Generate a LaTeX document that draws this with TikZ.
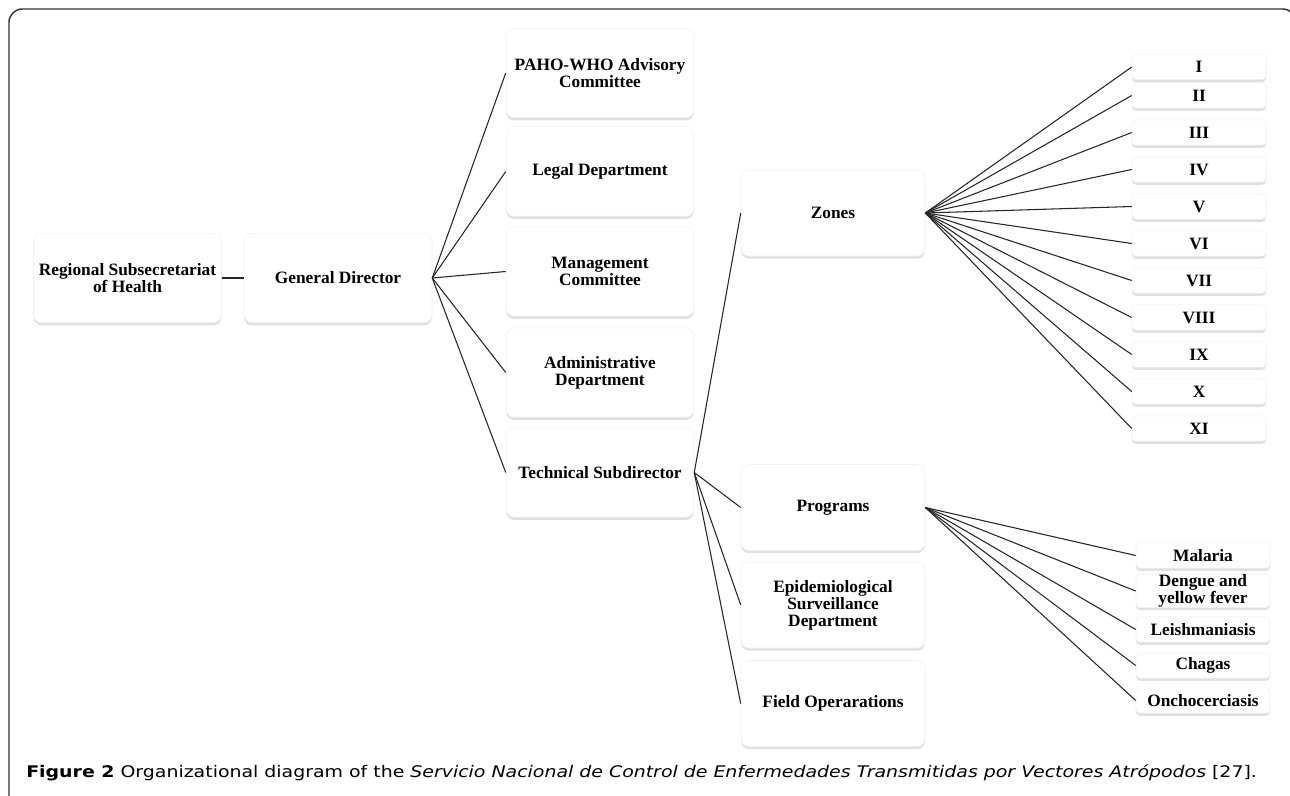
\documentclass[tikz,border=0pt]{standalone}
\usepackage{fontspec}
\usepackage{graphicx}
\setmainfont{Liberation Serif}
\newfontfamily\capfont{DejaVu Sans}
\usetikzlibrary{shadows}

\begin{document}
\begin{tikzpicture}[x=0.75pt,y=-0.75pt,
    unit/.style={fill=white, draw=gray!12, rounded corners=6pt, align=center, inner sep=2pt,
      font=\bfseries\fontsize{13}{12.8}\selectfont,
      drop shadow={shadow xshift=0pt, shadow yshift=-2pt, opacity=0.3, fill=gray!80}},
    bigunit/.style={unit, minimum width=141pt, minimum height=67pt},
    midunit/.style={unit, minimum width=138pt, minimum height=64.5pt},
    smallunit/.style={unit, rounded corners=3pt, minimum width=100.5pt, minimum height=19pt, inner sep=0pt},
    link/.style={line width=0.8pt, black!85}]
  \useasboundingbox (0,0) rectangle (1290,796);
  % outer frame
  \draw[line width=1.1pt, black!80, rounded corners=10pt] (9,810) -- (9,9) -- (1296,9) -- (1296,810);

  % top levels
  \node[bigunit] (regional) at (127.5,278) {Regional Subsecretariat\\of Health};
  \node[bigunit] (director) at (338,278) {General Director};
  \draw[line width=1.5pt, black!85] (regional.east) -- (director.west);

  % units under the general director
  \node[bigunit] (paho) at (600,73) {PAHO-WHO Advisory\\Committee};
  \node[bigunit] (legal) at (600,171.5) {Legal Department};
  \node[bigunit] (management) at (600,271.5) {Management\\Committee};
  \node[bigunit] (administrative) at (600,372.5) {Administrative\\Department};
  \node[bigunit] (technical) at (600,472.5) {Technical Subdirector};
  \foreach \unit in {paho,legal,management,administrative,technical}
    \draw[link] (director.east) -- (\unit.west);

  % units under the technical subdirector
  \node[midunit] (zones) at (833,213) {Zones};
  \node[midunit] (programs) at (833,507.5) {Programs};
  \node[midunit] (surveillance) at (833,605) {Epidemiological\\Surveillance\\Department};
  \node[midunit] (field) at (833,703.5) {Field Operarations};
  \foreach \unit in {zones,programs,surveillance,field}
    \draw[link] (technical.east) -- (\unit.west);

  % zones
  \foreach \num/\yc [count=\i] in {I/67,II/95.5,III/132.5,IV/169.5,V/206.5,VI/243.5,VII/280.5,VIII/317.5,IX/354.5,X/391.5,XI/428.5}{
    \node[smallunit] (zone\i) at (1199,\yc) {\num};
    \draw[link] (zones.east) -- (zone\i.west);
  }

  % programs
  \node[smallunit] (malaria) at (1203,555.5) {Malaria};
  \node[smallunit, font=\bfseries\fontsize{13}{11.5}\selectfont] (dengue) at (1203,591) {Dengue and\\yellow fever};
  \node[smallunit] (leish) at (1203,629.5) {Leishmaniasis};
  \node[smallunit] (chagas) at (1203,665.5) {Chagas};
  \node[smallunit] (oncho) at (1203,700.5) {Onchocerciasis};
  \foreach \prog in {malaria,dengue,leish,chagas,oncho}
    \draw[link] (programs.east) -- (\prog.west);

  % caption
  \node[anchor=base west, inner sep=0pt] (caption) at (26,777)
    {\resizebox{923pt}{9.6pt}{\capfont\fontsize{11}{13}\selectfont\textbf{Figure 2} Organizational diagram of the \textit{Servicio Nacional de Control de Enfermedades Transmitidas por Vectores Atrópodos} [27].}};
\end{tikzpicture}
\end{document}
